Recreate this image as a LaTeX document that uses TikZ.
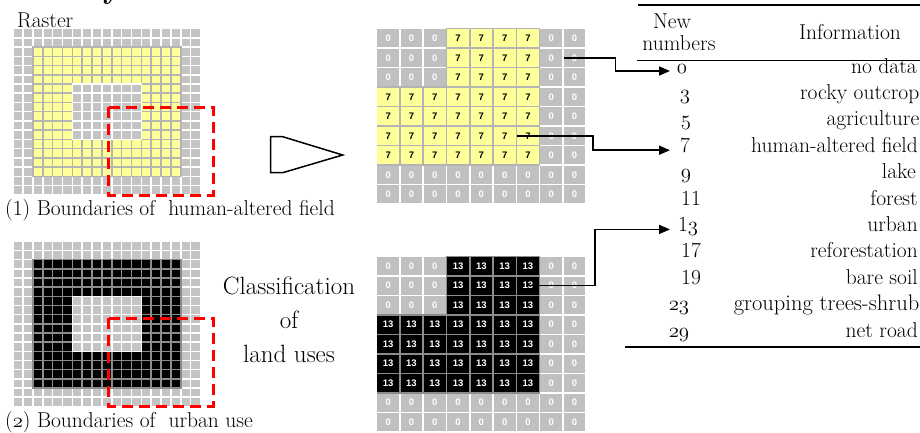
\documentclass[tikz,border=0pt]{standalone}
\usepackage{fontspec}
\setsansfont{Liberation Sans}
\usetikzlibrary{arrows.meta,calc}
\definecolor{cgray}{HTML}{C0C0C0}
\definecolor{cgrayb}{HTML}{C4C4C4}
\definecolor{cyel}{HTML}{FFFF99}
\definecolor{cred}{HTML}{FF0000}
\definecolor{cgap}{HTML}{B4B4B4}
\definecolor{cgapk}{HTML}{8C8C8C}
\newcommand\osn[1]{{\usefont{OML}{lmm}{m}{it}#1}}
\newcommand\smallraster[6]{%
  \fill[#6] ({#1+2*#3-1.6},{#2+2*#4-1.5}) rectangle ({#1+17*#3},{#2+16*#4});
  \fill[white] ({#1+6*#3-1.6},{#2+6*#4-1.5}) rectangle ({#1+13*#3},{#2+12*#4});
  \foreach \i in {0,...,18}{\foreach \j in {0,...,17}{%
    \pgfmathtruncatemacro\band{(\i>1)*(\i<17)*(\j>1)*(\j<16)*(1-(\i>5)*(\i<13)*(\j>5)*(\j<12))}%
    \ifnum\band=1 \def\cc{#5}\else\def\cc{cgrayb}\fi
    \fill[\cc] ({#1+\i*#3},{#2+\j*#4}) rectangle ++({#3-1.6},{#4-1.5});
  }}%
}
\tikzset{
  txt/.style={font=\fontsize{21.5}{24}\selectfont, inner sep=0pt},
  num/.style={txt, anchor=mid},
  info/.style={txt, anchor=mid east},
  bigcell/.style={minimum width=21.7pt, minimum height=18pt, inner sep=0pt,
    font=\sffamily\bfseries\fontsize{9.5}{9.5}\selectfont},
  gc/.style={bigcell, fill=cgray, text=white},
  yc/.style={bigcell, fill=cyel, text=black},
  kc/.style={bigcell, fill=black, text=white},
  conn/.style={line width=1.6pt, -{Triangle[length=11pt,width=9pt]}},
  reddash/.style={draw=cred, line width=3pt, dash pattern=on 11pt off 6pt},
  rule/.style={line width=1.8pt},
}
\begin{document}
\begin{tikzpicture}[x=1pt,y=-1pt]
\useasboundingbox (0,0) rectangle (920,432);

% ---------- cut-off title fragment ----------
\node[font=\bfseries\fontsize{30}{30}\selectfont, anchor=base, inner sep=0pt] (ttl) at (112,-1.5) {y};

% ---------- left rasters ----------
\smallraster{14}{29.3}{9.86}{9.24}{cyel}{cgap}
\smallraster{14}{242}{9.86}{9.17}{black}{cgapk}
\draw[reddash] (108,107) rectangle (213,195);
\draw[reddash] (108,318) rectangle (213,406);
\node[txt, anchor=base west] (raster) at (17,27) {Raster};
\node[txt, anchor=base west] (cap1) at (5,215) {(1) Boundaries of\ \ human-altered field};
\node[txt, anchor=base west] (cap2) at (5,427) {(\osn{2}) Boundaries of\ \ urban use};

% ---------- big arrow and label ----------
\draw[line width=1.5pt, line join=miter] (270.7,136.7) -- (282.7,136.7) -- (342.7,155)
  -- (282.7,172.7) -- (270.7,172.7) -- cycle;
\node[font=\fontsize{25}{34}\selectfont, align=center, inner sep=0pt] (cls) at (289,320)
  {Classification\\of\\land uses};

% ---------- middle grids ----------
\fill[cgap] ({377.3+3*23.3-1.6},{29.3-1.5}) rectangle ({377.3+7*23.3},{29.3+7*19.5});
\fill[cgap] (377.3,{29.3+3*19.5-1.5}) rectangle ({377.3+7*23.3},{29.3+7*19.5});
\foreach \i in {0,...,8}{\foreach \j in {0,...,8}{%
  \pgfmathtruncatemacro\band{(\i<7)*(\j<7)*(1-(\i<3)*(\j<3))}%
  \ifnum\band=1
    \node[yc] (t-\i-\j) at ({377.3+\i*23.3+10.85},{29.3+\j*19.5+9}) {7};
  \else
    \node[gc] (t-\i-\j) at ({377.3+\i*23.3+10.85},{29.3+\j*19.5+9}) {0};
  \fi
}}
\fill[cgapk] ({377.3+3*23.3-1.6},{257-1.5}) rectangle ({377.3+7*23.3},{257+7*19.5});
\fill[cgapk] (377.3,{257+3*19.5-1.5}) rectangle ({377.3+7*23.3},{257+7*19.5});
\foreach \i in {0,...,8}{\foreach \j in {0,...,8}{%
  \pgfmathtruncatemacro\band{(\i<7)*(\j<7)*(1-(\i<3)*(\j<3))}%
  \ifnum\band=1
    \node[kc] (b-\i-\j) at ({377.3+\i*23.3+10.85},{257+\j*19.5+9}) {13};
  \else
    \node[gc] (b-\i-\j) at ({377.3+\i*23.3+10.85},{257+\j*19.5+9}) {0};
  \fi
}}

% ---------- table ----------
\draw[rule] (638,5) -- (920,5);
\draw[line width=1.5pt] (637,60.5) -- (920,60.5);
\draw[rule] (625,347) -- (920,347);
\node[txt, anchor=base] (hnew) at (672,28) {New};
\node[txt, anchor=base] (hnum) at (679,50) {numbers};
\node[txt, anchor=base] (hinfo) at (850,39) {Information};

\node[num] (n0) at (682,71) {\osn{0}};
\node[num] (n3) at (685,97.4) {\osn{3}};
\node[num] (n5) at (686,123.8) {\osn{5}};
\node[num] (n7) at (685,150.2) {7};
\node[num] (n9) at (686,176.6) {\osn{9}};
\node[num] (n11) at (691,203) {11};
\node[num] (n13) at (688,229.4) {1\osn{3}};
\node[num] (n17) at (691,255.8) {17};
\node[num] (n19) at (691,282.2) {19};
\node[num] (n23) at (679,308.6) {\osn{23}};
\node[num] (n29) at (679,335) {\osn{29}};

\node[info] (i0) at (917,71) {no data};
\node[info] (i3) at (919.5,97.4) {rocky outcrop};
\node[info] (i5) at (919.5,123.8) {agriculture};
\node[info] (i7) at (918,150.2) {human-altered field};
\node[info] (i9) at (916,176.6) {lake};
\node[info] (i11) at (918,203) {forest};
\node[info] (i13) at (918,229.4) {urban\ };
\node[info] (i17) at (918,255.8) {reforestation};
\node[info] (i19) at (918,282.2) {bare soil};
\node[info, font=\fontsize{22.5}{24}\selectfont] (i23) at (919.5,308.6) {grouping trees-shrub};
\node[info] (i29) at (918,335) {net road};

% ---------- connectors ----------
\coordinate (tipx) at (670,0);
\draw[conn] (t-8-1.west) -- ++(52,0) |- (n0.mid -| tipx);
\draw[conn] (t-6-5.west) -- ++(76,0) |- (n7.mid -| tipx);
\draw[conn] ($(b-6-1.center)+(2,0)$) -- ++(65,0) |- (n13.mid -| tipx);
\end{tikzpicture}
\end{document}
